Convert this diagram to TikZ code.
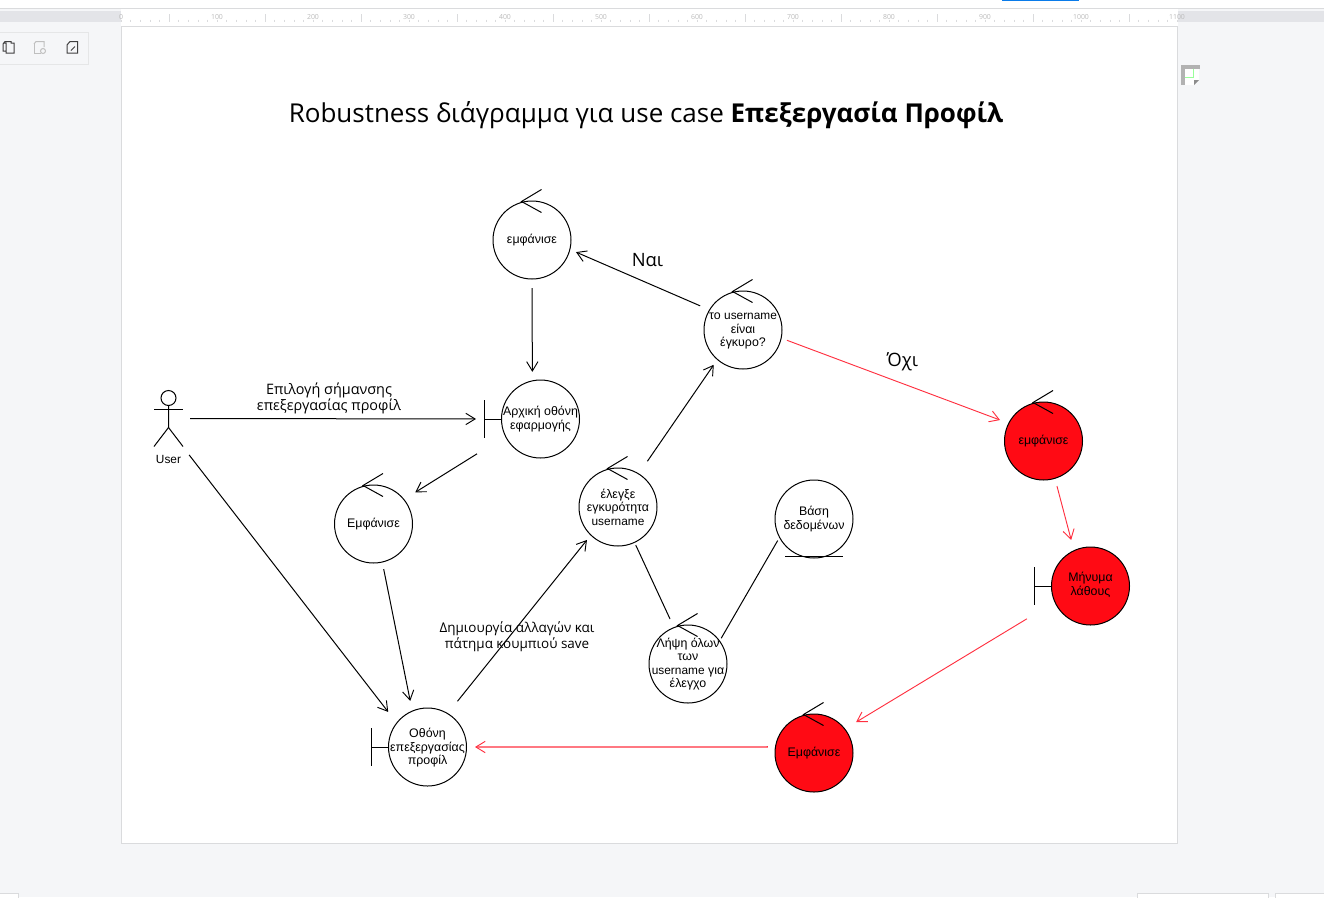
\documentclass[tikz,border=0pt]{standalone}
\usepackage{fontspec}
\setmainfont{Open Sans}
\newfontfamily\nodefont{Liberation Sans}
\usetikzlibrary{arrows.meta}
\definecolor{canvasbg}{HTML}{F5F6F8}
\definecolor{bandgrey}{HTML}{E3E4E8}
\definecolor{edgegrey}{HTML}{DADBDD}
\definecolor{rulertxt}{HTML}{BBBBBB}
\definecolor{rednode}{HTML}{FF0A14}
\definecolor{redline}{HTML}{FF3040}
\definecolor{iconblue}{HTML}{0A7BEA}
\newcommand{\ltn}[1]{{\fontsize{8.9}{10.1}\selectfont #1}}
\tikzset{
  x=0.75pt,y=-0.75pt,
  roundobj/.style={circle,draw=black,line width=0.75pt,fill=white,minimum size=58.5pt,inner sep=0pt,outer sep=0pt},
  redobj/.style={fill=rednode},
  nodetxt/.style={font=\nodefont\fontsize{9.3}{10.1}\selectfont,align=center,inner sep=0pt,text=black},
  stroke/.style={draw=black,line width=0.75pt},
  conn/.style={stroke,-{Straight Barb[length=7pt,width=8.5pt,line width=0.7pt]}},
  plainconn/.style={stroke},
  redconn/.style={draw=redline,line width=0.7pt,-{Straight Barb[length=7pt,width=8.5pt,line width=0.7pt]}},
  gaps/.style 2 args={shorten <=#1*0.75pt,shorten >=#2*0.75pt},
  edgetxt/.style={align=center,inner sep=0pt,text=black},
  bigtxt/.style={font=\fontsize{13.8}{15}\selectfont,inner sep=0pt,text=black},
  icon/.style={draw=#1,line width=0.75pt,fill=none},
}
\newcommand{\rbnode}[6][]{%
  \node[roundobj,#1] (#2) at (#3,#4) {};
  \node[nodetxt] (#2-t) at (#3,#4+#5) {#6};
}
\newcommand{\ctrlmark}[1]{\draw[stroke] (#1.center) ++(9.5,-50.5) -- ++(-20,12) -- ++(20,11);}
\newcommand{\bndmark}[1]{%
  \draw[stroke] (#1.west) -- ++(-17.5,0);
  \draw[stroke] (#1.west) ++(-17.5,-19) -- ++(0,38);}
\begin{document}
\begin{tikzpicture}
\useasboundingbox (0,0) rectangle (1324,897);
% application chrome
\fill[canvasbg] (0,0) rectangle (1324,897);
\fill[white] (0,0) rectangle (1324,8);
\draw[edgegrey,line width=0.6pt] (0,8.5) -- (1324,8.5);
\fill[iconblue] (1002,0) rectangle (1079,1);
\fill[bandgrey] (0,11) rectangle (121,22);
\fill[bandgrey] (1178,11) rectangle (1324,22);
\fill[white] (121,9) rectangle (1178,26);
\foreach \k in {0,...,110}{\draw[edgegrey,line width=0.3pt] ({121+\k*9.6},19.5) -- ({121+\k*9.6},22);}
\foreach \k in {0,...,10}{\draw[edgegrey,line width=0.3pt] ({169+\k*96},14) -- ({169+\k*96},22);}
\foreach \k/\t in {0/0,1/100,2/200,3/300,4/400,5/500,6/600,7/700,8/800,9/900,10/1000,11/1100}{
  \node[font=\fontsize{5.2}{6}\selectfont,text=rulertxt,inner sep=0pt] (ruler\k) at ({121+\k*96},17) {\t};}
\fill[white,draw=edgegrey,line width=0.75pt] (121,26) rectangle (1177.5,843);
\draw[edgegrey!70,line width=0.5pt,fill=canvasbg] (-1,32) rectangle (88,64);
\draw[icon=black!75] (3,43) -- (6,43) -- (6,53) -- (14,53) -- (14,43) -- (11,43) -- (11,41.5) -- (5,41.5) -- (3,44) -- (3,51) -- (6,51);
\draw[icon=black!25] (34,44) -- (36,41.5) -- (44,41.5) -- (44,47);
\draw[icon=black!25] (34,44) -- (34,53) -- (41,53);
\draw[icon=black!25] (43,51) circle (2.5);
\draw[icon=black!75] (67,45) -- (70,41.5) -- (77.5,41.5) -- (77.5,53) -- (67,53) -- cycle;
\draw[icon=black!75] (71,50.5) -- (75,46.5);
\fill[black!30] (1181,65) rectangle (1200,69);
\fill[black!30] (1181,65) rectangle (1185,85);
\fill[white] (1185,69) rectangle (1199,80);
\fill[white] (1185,80) -- (1194,80) -- (1194,85) -- (1185,85) -- cycle;
\fill[black!45] (1194,85) -- (1199,80) -- (1194,80) -- cycle;
\draw[green!40!white,line width=0.5pt] (1185,77) -- (1193,77) -- (1193,69);
\fill[white,draw=edgegrey,line width=0.5pt] (-2,900) -- (-2,893) -- (18,893) -- (18,900);
\fill[white,draw=edgegrey,line width=0.5pt] (1137,900) -- (1137,893) -- (1268,893) -- (1268,900);
\fill[white,draw=edgegrey,line width=0.5pt] (1275,900) -- (1275,893) -- (1326,893) -- (1326,900);
% title
\node[font=\fontsize{19.5}{22}\selectfont,inner sep=0pt,text=black] (title) at (646,115) {Robustness διάγραμμα για use case \textbf{Επεξεργασία Προφίλ}};
% actor
\node[minimum width=21.75pt,minimum height=42.75pt,inner sep=0pt,outer sep=0pt] (user) at (168.5,418.5) {};
\draw[stroke] (user.center) ++(0,-20.5) circle (7.5);
\draw[stroke] (user.center) ++(0,-13) -- ++(0,22) -- ++(-14.5,19);
\draw[stroke] (user.center) ++(0,9) -- ++(14.5,19);
\draw[stroke] (user.center) ++(-14.5,-9.5) -- ++(29,0);
\node[nodetxt] (user-t) at (168.5,459.5) {\ltn{User}};
% robustness objects
\rbnode{show1}{532}{240}{0}{εμφάνισε}
\rbnode{home}{540.5}{419}{0}{Αρχική οθόνη\\εφαρμογής}
\rbnode{show2}{373.5}{524}{0}{Εμφάνισε}
\rbnode{editscr}{427.5}{747}{1}{Οθόνη\\επεξεργασίας\\προφίλ}
\rbnode{check}{618}{507}{0}{έλεγξε\\εγκυρότητα\\\ltn{username}}
\rbnode{valid}{743}{330}{1}{το \ltn{username}\\είναι\\έγκυρο?}
\rbnode{fetch}{688}{664}{0}{Λήψη όλων\\των\\\ltn{username} για\\έλεγχο}
\rbnode{dbase}{814}{519}{0}{Βάση\\δεδομένων}
\rbnode[redobj]{redshow}{1043.5}{441}{0}{εμφάνισε}
\rbnode[redobj]{redmsg}{1090.5}{586}{-1}{Μήνυμα\\λάθους}
\rbnode[redobj]{redback}{814}{753}{0}{Εμφάνισε}
\foreach \n in {show1,show2,check,valid,fetch,redshow,redback}{\ctrlmark{\n}}
\bndmark{home}
\bndmark{editscr}
\bndmark{redmsg}
\draw[stroke] (dbase.center) ++(-29,37) -- ++(58,0);
% connectors
\draw[conn,gaps={7}{25.5}] (user.east) -- (home.west);
\draw[conn,gaps={10}{14}] (user.south east) -- (editscr.142.4);
\draw[conn,gaps={9}{9}] (show1.south) -- (home.102.6);
\draw[conn,gaps={33.5}{13.5}] (home.206.6) -- (show2.39.7);
\draw[conn,gaps={7.2}{10.4}] (show2.283.5) -- (editscr.113.4);
\draw[conn,gaps={15.8}{6.3}] (editscr.59.8) -- (check.226.1);
\draw[conn,gaps={15.4}{6.5}] (check.58.8) -- (valid.229.6);
\draw[conn,gaps={10.3}{6.7}] (valid.149.4) -- (show1.346.2);
\draw[redconn,gaps={6.2}{9.3}] (valid.348.5) -- (redshow.153);
\draw[redconn,gaps={8}{11.1}] (redshow.287.1) -- (redmsg.115.3);
\draw[redconn,gaps={32.7}{13.3}] (redmsg.204.4) -- (redback.38.2);
\draw[redconn,line width=1pt,gaps={7.5}{8.5}] (redback.171.1) -- (editscr.east);
\draw[plainconn,gaps={3}{9.5}] (check.295.3) -- (fetch.111);
\draw[plainconn,gaps={3.3}{3.7}] (fetch.36.5) -- (dbase.208.9);
% labels
\node[edgetxt,font=\fontsize{10.8}{12}\selectfont] (lblselect) at (329,398.5) {Επιλογή σήμανσης\\επεξεργασίας προφίλ};
\node[edgetxt,font=\fontsize{10.1}{12}\selectfont] (lblsave) at (517,636.5) {Δημιουργία αλλαγών και\\πάτημα κουμπιού save};
\node[bigtxt] (lblyes) at (647.5,260) {Ναι};
\node[bigtxt] (lblno) at (902.5,362) {Όχι};
\end{tikzpicture}
\end{document}
